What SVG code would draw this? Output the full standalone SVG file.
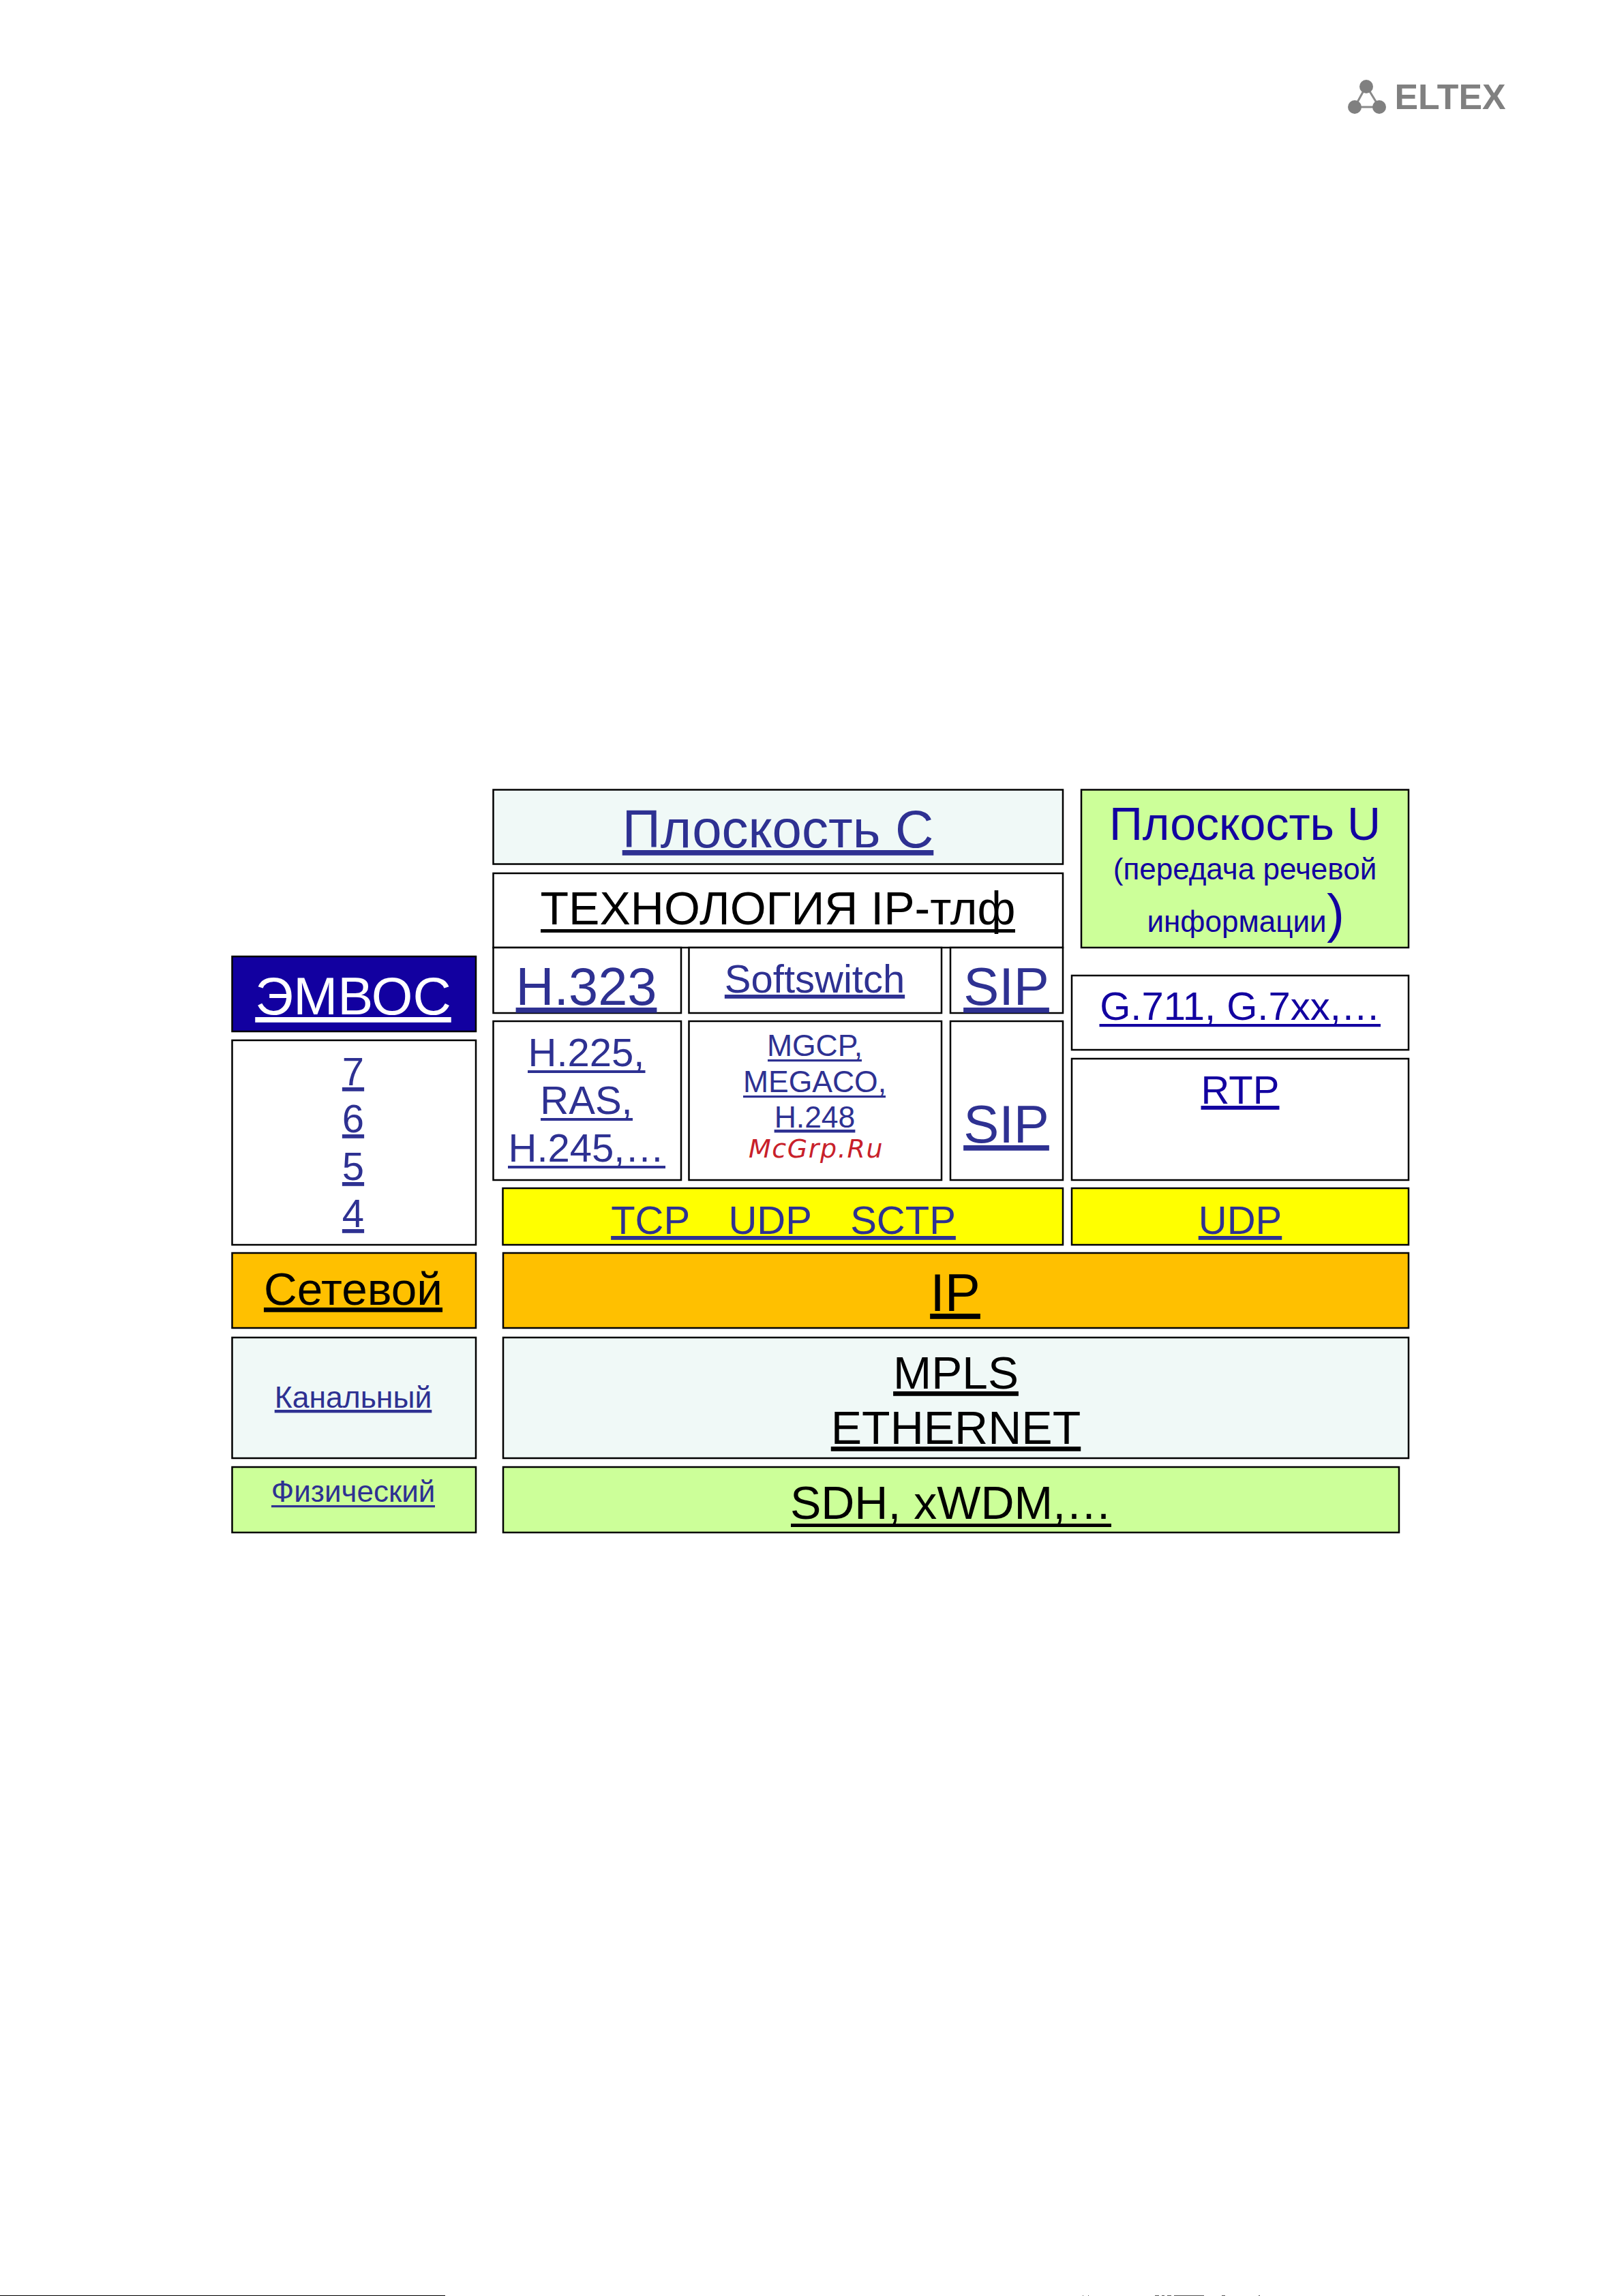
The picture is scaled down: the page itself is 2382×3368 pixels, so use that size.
<svg xmlns="http://www.w3.org/2000/svg" width="2382" height="3368" viewBox="0 0 2382 3368">
<style>
rect.b{stroke:#000;stroke-width:2.5}
text{font-family:"Liberation Sans",Arial,sans-serif;text-anchor:middle;white-space:pre}
.u{text-decoration:underline;text-decoration-skip-ink:none}
.n{fill:#2e3192}
.d{fill:#1200a0}
.k{fill:#000}
.w{fill:#fff}
.pc{fill:#f0f9f7}.pu{fill:#ccff99}.py{fill:#ffff00}.po{fill:#ffc000}.pw{fill:#fff}.pd{fill:#1200a0}
</style>
<rect width="2382" height="3368" fill="#fff"/>
<g id="logo">
<path d="M2004 126L1987 157L2023 157Z" fill="none" stroke="#8a8a8a" stroke-width="3"/>
<circle cx="2004" cy="127" r="10" fill="#808080"/>
<circle cx="1987" cy="157" r="10" fill="#808080"/>
<circle cx="2023" cy="157" r="10" fill="#808080"/>
<text x="2127" y="160" font-size="52" font-weight="700" fill="#808080" textLength="163" lengthAdjust="spacingAndGlyphs">ELTEX</text>
</g>
<g id="plane-c"><rect class="b pc" x="723.5" y="1158.5" width="835.5" height="109"/><text class="u n" x="1141" y="1243" font-size="78">Плоскость С</text></g>
<g id="plane-u"><rect class="b pu" x="1586" y="1158.5" width="480" height="231.5"/>
<text class="d" x="1826" y="1232" font-size="68">Плоскость U</text>
<text class="d" x="1826" y="1290" font-size="44">(передача речевой</text>
<text class="d" x="1814" y="1367" font-size="44">информации</text>
<text class="d" x="1959" y="1367" font-size="78">)</text></g>
<g id="tech"><rect class="b pw" x="723.5" y="1281" width="835.5" height="109"/><text class="k" x="1141" y="1356" font-size="68">ТЕХНОЛОГИЯ IP-тлф</text><rect class="k" x="793" y="1363" width="696" height="5"/></g>
<g id="h323"><rect class="b pw" x="723.5" y="1390" width="275.5" height="96"/><text class="u n" x="860" y="1474" font-size="77.5">H.323</text></g>
<g id="softswitch"><rect class="b pw" x="1010.5" y="1390" width="370.5" height="96"/><text class="u n" x="1195" y="1456" font-size="58">Softswitch</text></g>
<g id="sip-top"><rect class="b pw" x="1394" y="1390" width="165" height="96"/><text class="u n" x="1476" y="1474" font-size="78">SIP</text></g>
<g id="h225"><rect class="b pw" x="723.5" y="1498" width="275.5" height="233"/>
<text class="n" x="860" y="1564" font-size="58">H.225,</text><rect class="n" x="774" y="1570" width="172.5" height="4"/>
<text class="n" x="860" y="1634" font-size="58">RAS,</text><rect class="n" x="793" y="1640" width="135" height="4"/>
<text class="n" x="860" y="1704" font-size="58">H.245,…</text><rect class="n" x="745" y="1710" width="231" height="4"/></g>
<g id="mgcp"><rect class="b pw" x="1010.5" y="1498" width="370.5" height="233"/>
<text class="n" x="1195" y="1549" font-size="44.5">MGCP,</text><rect class="n" x="1126" y="1554" width="138" height="3.2"/>
<text class="n" x="1195" y="1602" font-size="44.5">MEGACO,</text><rect class="n" x="1090" y="1607" width="209" height="3.2"/>
<text class="u n" x="1195" y="1654" font-size="44.5">H.248</text>
<text x="1197" y="1698" font-size="38" font-style="italic" letter-spacing="1.6" fill="#c8202a" style="font-family:'DejaVu Sans',sans-serif">McGrp.Ru</text></g>
<g id="sip-bottom"><rect class="b pw" x="1394" y="1498" width="165" height="233"/><text class="u n" x="1476" y="1676" font-size="78">SIP</text></g>
<g id="g711"><rect class="b pw" x="1572" y="1431" width="494" height="109"/><text class="d" x="1819" y="1496" font-size="58">G.711, G.7xx,…</text><rect class="d" x="1612.5" y="1502" width="412.5" height="4.2"/></g>
<g id="rtp"><rect class="b pw" x="1572" y="1553" width="494" height="178"/><text class="u d" x="1819" y="1619" font-size="58">RTP</text></g>
<g id="tcp"><rect class="b py" x="737.5" y="1743" width="821.5" height="83"/><text class="u n" x="1149" y="1810" font-size="58" word-spacing="3">TCP   UDP   SCTP</text></g>
<g id="udp"><rect class="b py" x="1572" y="1743" width="494" height="83"/><text class="u n" x="1819" y="1810" font-size="58">UDP</text></g>
<g id="emvos"><rect class="b pd" x="340.5" y="1403" width="357.5" height="110"/><text class="u w" x="518" y="1488" font-size="78">ЭМВОС</text></g>
<g id="layers"><rect class="b pw" x="340.5" y="1526" width="357.5" height="300"/>
<text class="u n" x="518" y="1592" font-size="58">7</text>
<text class="u n" x="518" y="1661" font-size="58">6</text>
<text class="u n" x="518" y="1731" font-size="58">5</text>
<text class="u n" x="518" y="1800" font-size="58">4</text></g>
<g id="network"><rect class="b po" x="340.5" y="1838" width="357.5" height="110"/><text class="u k" x="518" y="1914" font-size="67.5">Сетевой</text></g>
<g id="ip"><rect class="b po" x="738" y="1838" width="1328" height="110"/><text class="u k" x="1401" y="1923" font-size="78">IP</text></g>
<g id="link"><rect class="b pc" x="340.5" y="1962" width="357.5" height="177"/><text class="u n" x="518" y="2065" font-size="44.5">Канальный</text></g>
<g id="mpls"><rect class="b pc" x="738" y="1962" width="1328" height="177"/>
<text class="u k" x="1402" y="2037" font-size="67.5">MPLS</text>
<text class="u k" x="1402" y="2118" font-size="68">ETHERNET</text></g>
<g id="physical"><rect class="b pu" x="340.5" y="2152" width="357.5" height="96"/><text class="n" x="518" y="2203" font-size="44">Физический</text><rect class="n" x="398" y="2208" width="240" height="3.2"/></g>
<g id="sdh"><rect class="b pu" x="738" y="2152" width="1314" height="96"/><text class="k" x="1395" y="2228" font-size="68">SDH, xWDM,…</text><rect class="k" x="1160" y="2235" width="470" height="5"/></g>
<rect id="footer-line" x="0" y="3367" width="653" height="1" fill="#000"/>
<path id="footer-marks" d="M1588 3367.5h1M1596 3367.5h1M1694 3367.5h6M1704 3367.5h4M1712 3367.5h6M1722 3367.5h44M1792 3367.5h5M1846 3367.5h2" stroke="#555" stroke-width="1" fill="none"/>
</svg>
